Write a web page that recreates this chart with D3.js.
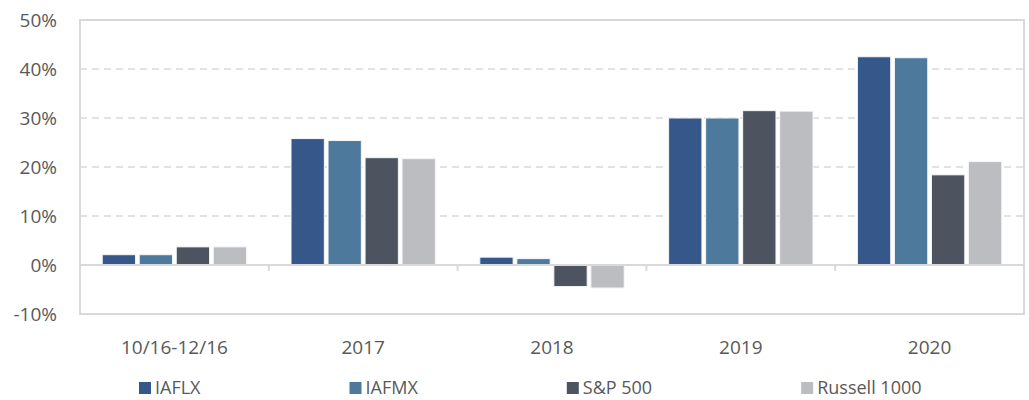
<!DOCTYPE html>
<html>
<head>
<meta charset="utf-8">
<script src="https://cdn.jsdelivr.net/npm/d3@7"></script>
<style>
  body { margin: 0; background: #fff; }
  text { font-family: "Open Sans", "Noto Sans", sans-serif; fill: #595959; }
</style>
</head>
<body>
<div id="chart"></div>
<script>
// data (returns, %)
var categories = ["10/16-12/16", "2017", "2018", "2019", "2020"];
var seriesNames = ["IAFLX", "IAFMX", "S&P 500", "Russell 1000"];
var iaflx = [2.1, 25.8, 1.6, 30.0, 42.5];
var iafmx = [2.1, 25.4, 1.3, 30.0, 42.3];
var sp500 = [3.7, 21.9, -4.4, 31.5, 18.4];
var russell1000 = [3.7, 21.7, -4.7, 31.4, 21.1];
var yTicks = [-10, 0, 10, 20, 30, 40, 50];

var seriesValues = [iaflx, iafmx, sp500, russell1000];
var colors = ["#35578a", "#4d7a9c", "#4d535f", "#bcbdc1"];

var width = 1029, height = 400;
// plot box (note: "top" is reserved on window, so use other names)
var plotLeft = 80, plotRight = 1024, plotTop = 20, plotBottom = 314;
var gridColor = "#d9d9d9";

var svg = d3.select("#chart").append("svg")
    .attr("width", width).attr("height", height);

var x = d3.scaleBand().domain(categories).range([plotLeft, plotRight]).padding(0);
var xs = d3.scaleBand().domain(seriesNames).range([0, x.bandwidth()])
    .paddingInner(0.1).paddingOuter(0.6);
var y = d3.scaleLinear().domain([-10, 50]).range([plotBottom, plotTop]);

// dashed gridlines (inner only)
svg.append("g").selectAll("line")
    .data(yTicks.filter(function(d) { return d > 0 && d < 50; }))
    .enter().append("line")
    .attr("x1", plotLeft).attr("x2", plotRight)
    .attr("y1", function(d) { return y(d); })
    .attr("y2", function(d) { return y(d); })
    .attr("stroke", gridColor)
    .attr("stroke-width", 1.5)
    .attr("stroke-dasharray", "7,5");

// frame
svg.append("rect")
    .attr("x", plotLeft).attr("y", plotTop)
    .attr("width", plotRight - plotLeft).attr("height", plotBottom - plotTop)
    .attr("fill", "none")
    .attr("stroke", gridColor)
    .attr("stroke-width", 2);

// y labels
svg.append("g").selectAll("text")
    .data(yTicks)
    .enter().append("text")
    .attr("x", 57)
    .attr("y", function(d) { return y(d); })
    .attr("dy", "0.35em")
    .attr("text-anchor", "end")
    .style("font-size", "19px")
    .text(function(d) { return d + "%"; });

// bars
var groups = svg.append("g").selectAll("g")
    .data(seriesNames)
    .enter().append("g")
    .attr("fill", function(d, i) { return colors[i]; });

groups.selectAll("rect")
    .data(function(d, i) {
        return seriesValues[i].map(function(v, j) {
            return { cat: categories[j], series: d, value: v };
        });
    })
    .enter().append("rect")
    .attr("x", function(d) { return x(d.cat) + xs(d.series); })
    .attr("width", xs.bandwidth())
    .attr("y", function(d) { return y(Math.max(0, d.value)); })
    .attr("height", function(d) { return Math.abs(y(d.value) - y(0)); })
    .attr("stroke", "#f4f6f8")
    .attr("stroke-width", 1);

// zero line and category ticks
svg.append("line")
    .attr("x1", plotLeft).attr("x2", plotRight)
    .attr("y1", y(0)).attr("y2", y(0))
    .attr("stroke", gridColor).attr("stroke-width", 2);

svg.append("g").selectAll("line")
    .data(categories.slice(1))
    .enter().append("line")
    .attr("x1", function(d) { return x(d); })
    .attr("x2", function(d) { return x(d); })
    .attr("y1", y(0)).attr("y2", y(0) + 6)
    .attr("stroke", gridColor).attr("stroke-width", 2);

// x labels
svg.append("g").selectAll("text")
    .data(categories)
    .enter().append("text")
    .attr("x", function(d) { return x(d) + x.bandwidth() / 2; })
    .attr("y", 347)
    .attr("dy", "0.35em")
    .attr("text-anchor", "middle")
    .style("font-size", "19px")
    .text(function(d) { return d; });

// legend
var legend = svg.append("g");
var lx = 139;
seriesNames.forEach(function(name, i) {
    var item = legend.append("g").attr("transform", "translate(" + lx + ",0)");
    item.append("rect")
        .attr("x", 0).attr("y", 382)
        .attr("width", 12).attr("height", 12)
        .attr("fill", colors[i]);
    var t = item.append("text")
        .attr("x", 16).attr("y", 388)
        .attr("dy", "0.35em")
        .style("font-size", "18px")
        .text(name);
    lx += 16 + t.node().getComputedTextLength() + 149;
});
</script>
</body>
</html>
